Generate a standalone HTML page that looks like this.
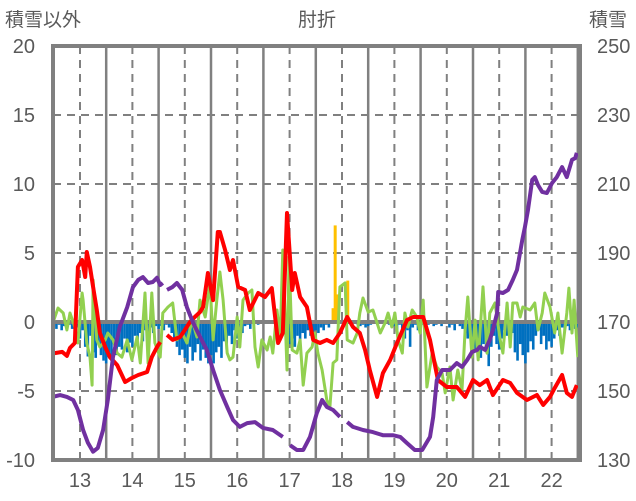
<!DOCTYPE html>
<html><head><meta charset="utf-8">
<style>
html,body{margin:0;padding:0;background:#fff;}
svg{display:block;font-family:"Liberation Sans","Noto Sans CJK JP",sans-serif;}
</style></head>
<body>
<svg id="chart" width="636" height="501" viewBox="0 0 636 501" xmlns="http://www.w3.org/2000/svg">
<defs><clipPath id="clip"><rect x="53" y="46" width="527" height="414"/></clipPath></defs>
<g id="grid"></g>
<g id="bars" clip-path="url(#clip)"></g>
<g id="zero"></g>
<g id="lines" clip-path="url(#clip)"></g>
<g id="frame"></g>
<g id="labels"></g>
<text x="5" y="26" font-size="19" fill="#595959">積雪以外</text>
<text x="317" y="26" font-size="19" fill="#595959" text-anchor="middle">肘折</text>
<text x="589" y="26" font-size="19" fill="#595959">積雪</text>
</svg>
<script>
const leftTicks=[20,15,10,5,0,-5,-10];
const rightTicks=[250,230,210,190,170,150,130];
const yearTicks=[13,14,15,16,17,18,19,20,21,22];

const redT=[12.52,12.66,12.75,12.81,12.90,12.96,13.04,13.10,13.13,13.19,13.25,13.32,13.38,13.48,13.57,13.71,13.86,13.99,14.11,14.28,14.37,14.47,14.53,null,14.66,14.77,14.91,15.00,15.10,15.19,15.29,15.35,15.44,15.54,15.63,15.67,15.77,15.86,15.92,16.02,16.15,16.24,16.40,16.53,16.66,16.78,16.87,16.95,17.05,17.10,17.20,17.33,17.45,17.58,17.71,17.83,17.96,18.10,18.21,18.34,18.44,18.53,18.67,18.78,18.92,19.05,19.24,19.36,19.55,19.68,19.83,20.00,20.19,20.35,20.50,20.63,20.77,20.88,21.07,21.21,21.34,21.53,21.72,21.84,21.97,22.06,22.20,22.29,22.39,22.48];
const redV=[-2.25,-2.17,-2.46,-1.88,-1.52,3.99,4.49,3.26,5.07,3.99,2.54,0.87,-0.80,-1.81,-2.54,-3.12,-4.35,-4.06,-3.84,-3.62,-2.54,-1.81,-1.45,null,-0.94,-1.30,-1.09,-0.58,0.0,0.36,0.72,1.09,3.55,1.59,6.52,6.52,5.22,3.77,4.49,2.54,2.32,0.87,2.10,1.81,2.46,-1.52,-0.80,7.90,2.32,3.55,1.81,1.09,-1.30,-1.52,-1.30,-1.52,-0.80,0.36,-0.36,-0.80,-2.03,-3.48,-5.43,-3.70,-2.75,-1.52,0.14,0.36,0.36,-1.30,-4.20,-4.71,-4.71,-5.43,-4.20,-4.57,-4.20,-5.29,-4.20,-4.42,-5.14,-5.65,-5.29,-6.01,-5.43,-4.78,-3.84,-5.14,-5.43,-4.57];

const greenT=[12.48,12.58,12.68,12.75,12.81,12.90,12.96,13.04,13.06,13.13,13.19,13.23,13.25,13.32,13.38,13.48,13.53,13.63,13.71,13.80,13.90,13.99,14.09,14.15,14.24,14.30,14.37,14.43,14.53,14.58,14.68,14.77,14.85,14.95,15.04,15.14,15.23,15.29,15.39,15.48,15.54,15.61,15.67,15.73,15.81,15.86,15.92,16.00,16.05,16.11,16.21,16.28,16.34,16.40,16.47,16.57,16.63,16.68,16.76,16.82,16.87,16.95,16.99,17.05,17.14,17.20,17.26,17.33,17.43,17.48,17.54,17.62,17.71,17.77,17.83,17.90,17.96,18.06,18.10,18.21,18.29,18.34,18.40,18.50,18.59,18.73,18.82,18.88,18.95,19.01,19.07,19.15,19.20,19.26,19.34,19.43,19.49,19.55,19.62,19.72,19.81,19.91,19.97,20.06,20.12,20.21,20.29,20.35,20.40,20.48,20.54,20.60,20.69,20.77,20.82,20.92,21.02,21.07,21.15,21.21,21.26,21.34,21.40,21.45,21.59,21.68,21.74,21.82,21.87,21.97,22.06,22.12,22.20,22.29,22.33,22.39,22.43,22.50];
const greenV=[-0.07,1.01,0.65,-0.58,0.65,-0.36,-1.52,2.10,1.59,-1.52,-2.54,-4.57,3.04,-1.30,-1.81,-1.30,-0.80,-1.30,-2.25,-2.54,-1.30,-2.75,-1.09,-2.97,2.10,-2.97,2.10,-1.52,-2.54,0.65,1.09,1.38,-1.30,-0.80,-1.52,0.14,-1.09,1.59,0.36,2.83,-1.30,1.59,3.62,1.59,-2.25,-2.75,-2.54,0.36,-1.81,1.59,2.10,2.32,-1.81,-3.26,-1.30,-2.03,-1.09,-2.25,0.87,-1.30,5.22,-3.48,4.71,-2.03,-2.25,-1.30,-4.57,-2.25,-1.81,-0.80,-2.25,-3.48,-5.65,-6.16,-2.97,-2.75,2.54,2.83,-1.30,-1.52,-0.80,0.65,1.74,0.72,0.87,-0.80,-0.07,0.65,-0.36,0.65,-1.30,-2.25,0.65,-0.36,0.87,0.36,-0.80,1.59,-4.71,-2.25,-3.26,-3.70,-5.14,-3.26,-5.65,-3.48,-4.93,-0.58,1.81,-2.54,0.14,-2.75,2.54,-2.25,0.65,1.38,-1.30,-2.25,1.38,-1.81,1.38,1.38,0.36,1.09,0.87,1.38,-0.58,0.65,2.10,1.09,-0.80,0.65,-2.25,0.65,2.46,-0.80,1.59,-2.54];

const snowT=[12.48,12.62,12.75,12.87,12.96,13.06,13.15,13.25,13.34,13.44,13.53,13.63,13.76,13.90,14.01,14.11,14.20,14.30,14.39,14.47,14.53,14.58,null,14.66,14.76,14.85,14.95,15.04,15.16,15.29,15.42,15.54,15.67,15.81,15.92,16.05,16.19,16.34,16.49,16.68,16.87,null,17.01,17.14,17.26,17.39,17.52,17.62,17.71,17.83,17.96,null,18.10,18.21,18.40,18.59,18.78,18.97,19.11,19.24,19.39,19.53,19.68,19.74,19.81,19.91,20.06,20.19,20.29,20.39,20.48,20.58,20.63,20.73,20.82,20.88,20.96,20.98,21.07,21.17,21.26,21.34,21.44,21.49,21.55,21.63,21.68,21.74,21.82,21.91,22.01,22.10,22.20,22.29,22.39,22.45,22.48];
const snowV=[148.3,148.8,148.3,147.4,144.5,138.7,135.0,132.4,133.5,138.7,147.4,159.9,168.6,174.3,180.1,182.2,183.0,181.3,181.6,182.8,180.7,181.3,null,179.3,180.1,181.3,179.3,174.3,169.7,165.7,161.9,156.1,150.3,145.4,141.6,139.6,140.7,141.0,139.3,138.7,136.7,null,134.3,132.9,132.9,136.7,143.6,147.4,145.4,144.5,142.5,null,141.0,139.6,138.7,138.1,137.2,137.2,136.7,134.9,132.9,132.9,136.7,142.5,153.2,156.1,156.1,158.1,157.0,159.0,161.3,161.9,162.8,161.9,164.8,167.7,172.6,178.7,178.4,179.3,182.2,185.1,193.8,197.5,202.5,211.2,212.0,209.7,207.7,207.4,210.3,212.0,214.9,212.0,217.0,217.5,219.0];

const blueStart=12.5, blueStep=0.05;
const blueV=[-0.3,-0.5,-0.2,-0.6,-0.3,-0.4,-0.2,-0.5,-0.8,-0.4,
-1.2,-0.6,-1.8,-2.5,-1.0,-2.2,-2.6,-1.5,-2.4,-2.8,
-3.0,-2.2,-2.8,-1.6,-2.4,-1.8,-2.0,-1.2,-2.2,-1.5,
-1.8,-1.0,-1.6,-0.8,-1.4,-0.6,-1.0,-0.4,-0.8,-0.3,
-0.5,-0.3,-0.6,-0.2,-0.4,-0.8,-1.2,-1.8,-2.4,-2.0,
-2.6,-3.0,-1.8,-2.8,-2.2,-1.6,-2.8,-2.0,-2.6,-3.0,
-2.4,-3.0,-2.2,-1.8,-2.6,-1.4,-2.0,-1.0,-1.6,-0.6,
-1.2,-0.4,-0.8,-0.3,-0.2,-0.5,0,0,-0.2,0,
0,0,0,0,0,0,-0.3,-0.5,-0.8,-1.2,
-1.6,-1.2,-1.8,-1.0,-1.4,-0.8,-1.2,-0.6,-1.0,-0.8,
-0.6,-0.8,-0.4,-0.6,-0.2,-0.4,-0.1,0,0,0,
0,0,0,0,0,0,-0.2,-0.3,-0.2,-0.4,
-0.3,-0.2,-0.1,0,0,0,0,0,-0.2,-0.4,
-0.3,-0.6,-0.2,-0.8,-1.2,-0.6,-1.8,-0.4,-0.2,-0.6,
-0.3,-0.2,-0.5,-0.2,-0.1,-0.3,-0.2,0,-0.3,-0.1,
0,-0.4,-0.2,-0.6,0,-0.3,-0.5,-0.8,-1.2,-0.6,
-1.4,-2.0,-1.2,-2.6,-1.6,-2.2,-3.2,-1.8,-1.0,-1.6,
-2.0,-1.2,-0.6,-1.0,-0.4,-0.8,-2.2,-2.8,-1.6,-2.4,
-3.0,-2.2,-1.4,-2.0,-1.0,-0.6,-1.6,-1.0,-2.0,-1.4,
-1.8,-1.2,-0.6,-1.0,-0.4,-0.8,-0.3,-0.6,-0.2,-0.5,-0.4];

const orangeT=[17.83,17.87,17.91,18.11];
const orangeV=[1.0,7.0,2.0,3.0];

const NS="http://www.w3.org/2000/svg";
const X0=53,X1=580,Y0=46,Y1=460;
const xS=t=>80+(t-13)*52.4;
const yL=v=>Y0+(20-v)*(Y1-Y0)/30;
const yR=s=>Y0+(250-s)*(Y1-Y0)/120;
const GRAY="#808080", TXT="#595959";
function mk(tag,attrs,parent){const e=document.createElementNS(NS,tag);for(const k in attrs)e.setAttribute(k,attrs[k]);parent.appendChild(e);return e;}

const grid=document.getElementById('grid');
leftTicks.forEach(v=>{ if(v===0||v===20||v===-10) return;
  const l=mk('line',{x1:X0,x2:X1,y1:yL(v),y2:yL(v),stroke:GRAY,'stroke-width':2,'stroke-dasharray':'8,6'},grid);
  
  
});
yearTicks.forEach(y=>{
  const d=mk('line',{x1:xS(y),x2:xS(y),y1:Y0,y2:Y1,stroke:GRAY,'stroke-width':2,'stroke-dasharray':'8,6'},grid);
  
  
  const s=mk('line',{x1:xS(y+0.5),x2:xS(y+0.5),y1:Y0,y2:Y1,stroke:GRAY,'stroke-width':2.5},grid);
  
  
});

const bars=document.getElementById('bars');
blueV.forEach((v,i)=>{ if(v===0) return;
  const t=blueStart+i*blueStep, x=xS(t);
  const r=mk('rect',{x:x-1.3,y:yL(0),width:2.6,height:yL(v)-yL(0),fill:'#0070C0'},bars);
  
  
});
orangeT.forEach((t,i)=>{
  const r=mk('rect',{x:xS(t)-1.5,y:yL(orangeV[i]),width:3,height:yL(0)-yL(orangeV[i]),fill:'#FFC000'},bars);
  
  
});

const zero=document.getElementById('zero');
const zl=mk('line',{x1:X0,x2:X1,y1:yL(0),y2:yL(0),stroke:GRAY,'stroke-width':4},zero);



function path(T,V,yf){let d='',pen=false;
  T.forEach((t,i)=>{ if(t===null||V[i]===null){pen=false;return;}
    d+=(pen?'L':'M')+xS(t).toFixed(1)+' '+yf(V[i]).toFixed(1)+' ';pen=true;});
  return d;}
const lines=document.getElementById('lines');
const g=mk('path',{d:path(greenT,greenV,yL),fill:'none',stroke:'#92D050','stroke-width':3,'stroke-linejoin':'round'},lines);


const r=mk('path',{d:path(redT,redV,yL),fill:'none',stroke:'#FF0000','stroke-width':4,'stroke-linejoin':'round'},lines);


const p=mk('path',{d:path(snowT,snowV,yR),fill:'none',stroke:'#7030A0','stroke-width':4,'stroke-linejoin':'round'},lines);



const frame=document.getElementById('frame');
const fr=mk('rect',{x:X0,y:Y0,width:X1-X0,height:Y1-Y0,fill:'none',stroke:GRAY,'stroke-width':4},frame);



const labels=document.getElementById('labels');
leftTicks.forEach(v=>{
  const t=mk('text',{x:35,y:yL(v)+7,'font-size':20,fill:TXT,'text-anchor':'end'},labels);
  t.textContent=v;
  
  
});
rightTicks.forEach(v=>{
  const t=mk('text',{x:597,y:yR(v)+7,'font-size':20,fill:TXT},labels);
  t.textContent=v;
  
  
});
yearTicks.forEach(v=>{
  const t=mk('text',{x:xS(v),y:487,'font-size':20,fill:TXT,'text-anchor':'middle'},labels);
  t.textContent=v;
  
  
});
</script>
</body></html>
